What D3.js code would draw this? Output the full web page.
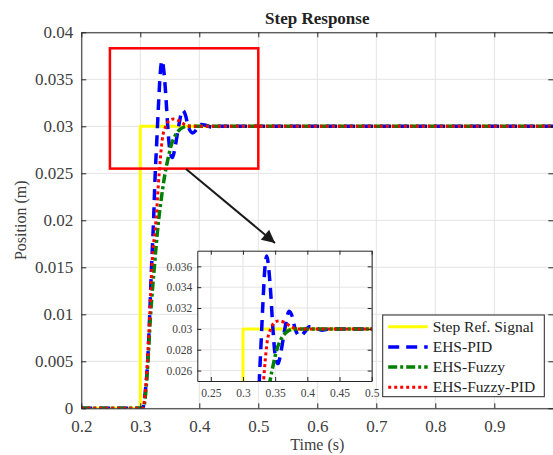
<!DOCTYPE html>
<html><head><meta charset="utf-8">
<script src="https://cdn.jsdelivr.net/npm/d3@7"></script>
<style>
html,body{margin:0;padding:0;background:#fff;}
svg{display:block;font-family:"Liberation Serif","Times New Roman",serif;}
</style></head>
<body>
<svg id="chart" width="553" height="455"></svg>
<script>
// ---------------- data ----------------
const xTicks = [0.2,0.3,0.4,0.5,0.6,0.7,0.8,0.9,1.0];
const yTicks = [0,0.005,0.01,0.015,0.02,0.025,0.03,0.035,0.04];
const xTickLabels = ["0.2","0.3","0.4","0.5","0.6","0.7","0.8","0.9",""];
const yTickLabels = ["0","0.005","0.01","0.015","0.02","0.025","0.03","0.035","0.04"];
const insetXTicks = [0.25,0.3,0.35,0.4,0.45,0.5];
const insetXTickLabels = ["0.25","0.3","0.35","0.4","0.45","0.5"];
const insetYTicks = [0.026,0.028,0.03,0.032,0.034,0.036];
const insetYTickLabels = ["0.026","0.028","0.03","0.032","0.034","0.036"];

const seriesNames = ["Step Ref. Signal","EHS-PID","EHS-Fuzzy","EHS-Fuzzy-PID"];

const refT = [0.2,0.3,0.3,1.0];
const refY = [0,0,0.03,0.03];

const pidT = [0.2,0.304,0.308,0.3125,0.316,0.319,0.3225,0.325,0.328,0.331,0.334,0.337,0.340,0.343,0.3465,0.350,0.3545,0.359,0.365,0.3717,0.377,0.381,0.3888,0.396,0.4028,0.412,0.4226,0.435,0.45,1.0];
const pidY = [0,0,0.0015,0.005,0.010,0.015,0.020,0.0245,0.0285,0.0325,0.0358,0.0370,0.0358,0.0335,0.0300,0.0275,0.02667,0.0278,0.0300,0.0317,0.0311,0.0300,0.0293,0.0297,0.0302,0.0301,0.02988,0.0300,0.0300,0.0300];

const fuzzyT = [0.2,0.305,0.309,0.313,0.317,0.3238,0.331,0.336,0.342,0.3475,0.3525,0.359,0.366,0.373,0.3794,0.39,0.4,1.0];
const fuzzyY = [0,0,0.0015,0.005,0.0095,0.015,0.020,0.0225,0.025,0.0267,0.0280,0.0290,0.0296,0.0299,0.0300,0.0300,0.0300,0.0300];

const fpidT = [0.2,0.304,0.308,0.312,0.316,0.3195,0.3266,0.332,0.337,0.343,0.349,0.356,0.365,0.375,0.385,0.4,1.0];
const fpidY = [0,0,0.0015,0.005,0.010,0.015,0.020,0.025,0.0285,0.0300,0.0306,0.03077,0.0306,0.0302,0.0300,0.0300,0.0300];

const zoomBoxX = [0.2485,0.5];
const zoomBoxY = [0.0255,0.0383];
const arrowFrom = [0.3775,0.02546];
const arrowTo = [0.5283,0.01759];
const insetXDomain = [0.229,0.5];
const insetYDomain = [0.025,0.0375];

// ---------------- layout ----------------
const svg = d3.select("#chart");
const M = {left:81.3, top:32.3, right:553.3, bottom:408.3};
const x = d3.scaleLinear().domain([0.2,1.0]).range([M.left,M.right]);
const y = d3.scaleLinear().domain([0,0.04]).range([M.bottom,M.top]);
const axisCol = "#262626", textCol = "#404040", gridCol = "#e3e3e3";

const styles = [
  {color:"#ffff00", width:3, dash:null},
  {color:"#0000ff", width:3.5, dash:"11,7"},
  {color:"#008000", width:3.5, dash:"9,3,3,3"},
  {color:"#ff0000", width:3, dash:"3,3"}
];
const data = [
  refT.map((t,i)=>[t,refY[i]]),
  pidT.map((t,i)=>[t,pidY[i]]),
  fuzzyT.map((t,i)=>[t,fuzzyY[i]]),
  fpidT.map((t,i)=>[t,fpidY[i]])
];

const defs = svg.append("defs");
defs.append("clipPath").attr("id","mainClip").append("rect")
  .attr("x",M.left).attr("y",M.top).attr("width",M.right-M.left).attr("height",M.bottom-M.top);
defs.append("marker").attr("id","arrowHead").attr("viewBox","0 0 10 10")
  .attr("refX",10).attr("refY",5).attr("markerWidth",7.5).attr("markerHeight",6.5)
  .attr("markerUnits","strokeWidth").attr("orient","auto")
  .append("path").attr("d","M0,0 L10,5 L0,10 Z").attr("fill","#1a1a1a");

// grid
const g = svg.append("g");
g.selectAll(".gx").data(xTicks).enter().append("line")
  .attr("x1",d=>x(d)).attr("x2",d=>x(d)).attr("y1",M.top).attr("y2",M.bottom)
  .attr("stroke",gridCol).attr("stroke-width",1);
g.selectAll(".gy").data(yTicks).enter().append("line")
  .attr("y1",d=>y(d)).attr("y2",d=>y(d)).attr("x1",M.left).attr("x2",M.right)
  .attr("stroke",gridCol).attr("stroke-width",1);

function drawSeries(parent, xs, ys, clipId){
  const line = d3.line().x(d=>xs(d[0])).y(d=>ys(d[1])).curve(d3.curveMonotoneX);
  const lineStep = d3.line().x(d=>xs(d[0])).y(d=>ys(d[1]));
  const gg = parent.append("g").attr("clip-path",`url(#${clipId})`);
  data.forEach((pts,i)=>{
    const s = styles[i];
    gg.append("path").attr("d", i===0 ? lineStep(pts) : line(pts))
      .attr("fill","none").attr("stroke",s.color).attr("stroke-width",s.width)
      .attr("stroke-dasharray",s.dash).attr("stroke-linejoin","round");
  });
}
drawSeries(svg, x, y, "mainClip");

// axes
function boxAxes(parent, xs, ys, xt, xtl, yt, ytl, fs, tick, xoff, yoff){
  const [x0,x1] = xs.range(), [y0,y1] = ys.range();
  const ax = parent.append("g");
  ax.append("g").attr("transform",`translate(0,${y0})`)
    .call(d3.axisBottom(xs).tickValues(xt).tickFormat((d,i)=>xtl[i]).tickSizeInner(-tick).tickSizeOuter(0).tickPadding(xoff));
  ax.append("g").attr("transform",`translate(0,${y1})`)
    .call(d3.axisTop(xs).tickValues(xt).tickFormat("").tickSizeInner(-tick).tickSizeOuter(0));
  ax.append("g").attr("transform",`translate(${x0},0)`)
    .call(d3.axisLeft(ys).tickValues(yt).tickFormat((d,i)=>ytl[i]).tickSizeInner(-tick).tickSizeOuter(0).tickPadding(yoff));
  ax.append("g").attr("transform",`translate(${x1},0)`)
    .call(d3.axisRight(ys).tickValues(yt).tickFormat("").tickSizeInner(-tick).tickSizeOuter(0));
  ax.selectAll(".domain").attr("stroke",axisCol).attr("stroke-width",1);
  ax.selectAll(".tick line").attr("stroke",axisCol);
  ax.selectAll(".tick text").attr("fill",textCol).style("font-family","Liberation Serif").style("font-size",fs+"px");
  return ax;
}
boxAxes(svg, x, y, xTicks, xTickLabels, yTicks, yTickLabels, 17, 5, 12, 8);

// title and labels
svg.append("text").attr("x",(M.left+M.right)/2).attr("y",24).attr("text-anchor","middle")
  .attr("font-weight","bold").attr("font-size","17px").attr("fill","#222").text("Step Response");
svg.append("text").attr("x",(M.left+M.right)/2).attr("y",450).attr("text-anchor","middle")
  .attr("font-size","16px").attr("fill",textCol).text("Time (s)");
svg.append("text").attr("transform",`translate(26,${(M.top+M.bottom)/2}) rotate(-90)`).attr("text-anchor","middle")
  .attr("font-size","16px").attr("fill",textCol).text("Position (m)");

// zoom box
svg.append("rect").attr("x",x(zoomBoxX[0])).attr("y",y(zoomBoxY[1]))
  .attr("width",x(zoomBoxX[1])-x(zoomBoxX[0])).attr("height",y(zoomBoxY[0])-y(zoomBoxY[1]))
  .attr("fill","none").attr("stroke","#ff0000").attr("stroke-width",2.5);
// arrow
svg.append("line").attr("x1",x(arrowFrom[0])).attr("y1",y(arrowFrom[1]))
  .attr("x2",x(arrowTo[0])).attr("y2",y(arrowTo[1]))
  .attr("stroke","#1a1a1a").attr("stroke-width",2).attr("marker-end","url(#arrowHead)");

// inset
const I = {left:197.3, top:250.7, right:371.7, bottom:381};
const ix = d3.scaleLinear().domain(insetXDomain).range([I.left,I.right]);
const iy = d3.scaleLinear().domain(insetYDomain).range([I.bottom,I.top]);
defs.append("clipPath").attr("id","insetClip").append("rect")
  .attr("x",I.left).attr("y",I.top).attr("width",I.right-I.left).attr("height",I.bottom-I.top);
const ig = svg.append("g");
ig.append("rect").attr("x",I.left).attr("y",I.top).attr("width",I.right-I.left).attr("height",I.bottom-I.top).attr("fill","#fff");
ig.selectAll(".igx").data(insetXTicks).enter().append("line")
  .attr("x1",d=>ix(d)).attr("x2",d=>ix(d)).attr("y1",I.top).attr("y2",I.bottom).attr("stroke",gridCol);
ig.selectAll(".igy").data(insetYTicks).enter().append("line")
  .attr("y1",d=>iy(d)).attr("y2",d=>iy(d)).attr("x1",I.left).attr("x2",I.right).attr("stroke",gridCol);
drawSeries(ig, ix, iy, "insetClip");
boxAxes(ig, ix, iy, insetXTicks, insetXTickLabels, insetYTicks, insetYTickLabels, 11.5, 4, 8, 5);

// legend
const L = {x:382.7, y:315, w:161.6, h:81.7};
const lg = svg.append("g");
lg.append("rect").attr("x",L.x).attr("y",L.y).attr("width",L.w).attr("height",L.h)
  .attr("fill","#fff").attr("stroke","#262626").attr("stroke-width",1);
seriesNames.forEach((name,i)=>{
  const yy = L.y + 11.7 + i*20.2;
  const s = styles[i];
  lg.append("line").attr("x1",L.x+5.5).attr("x2",L.x+45).attr("y1",yy).attr("y2",yy)
    .attr("stroke",s.color).attr("stroke-width",s.width).attr("stroke-dasharray",s.dash);
  lg.append("text").attr("x",L.x+50).attr("y",yy+5).attr("font-size","15.5px").attr("fill","#222").text(name);
});
</script>
</body></html>
